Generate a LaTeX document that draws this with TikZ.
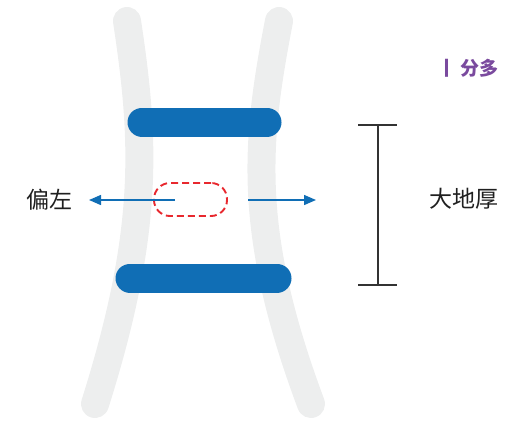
\documentclass[tikz,border=0pt]{standalone}
\usepackage{fontspec}
\newfontfamily\cjk{Noto Sans CJK SC}
\usepackage{tikz}
\usetikzlibrary{arrows.meta,positioning,calc}
\usepackage{xcolor}
\definecolor{legblue}{HTML}{106EB5}
\definecolor{leggray}{HTML}{EDEEEE}
\definecolor{holered}{HTML}{E8282E}
\definecolor{dimgray}{HTML}{333333}
\definecolor{tagpurple}{HTML}{7A4A9E}

\begin{document}
\begin{tikzpicture}[
    x=1pt, y=-1pt,
    leg/.style={line width=28pt, line cap=round, leggray},
    rung/.style={line width=29pt, line cap=round, legblue},
    hole/.style={rectangle, draw=holered, dash pattern=on 7pt off 4pt,
                 line width=1.9pt, rounded corners=16pt,
                 minimum width=73pt, minimum height=33pt},
    lbl/.style={font=\cjk\fontsize{23}{28}\selectfont, text=black!88},
    arr/.style={-{Triangle[length=12pt,width=10pt]}, line width=1.4pt, legblue},
    dim/.style={line width=1.4pt, dimgray}
]
\useasboundingbox (0,0) rectangle (521,426);

% legs
\draw[leg] (127,21) .. controls (145,140) and (150,230) .. (95,404);
\draw[leg] (279,21) .. controls (256,140) and (246,230) .. (311,404);

% rungs
\draw[rung] (142,122) -- (267,122);
\draw[rung] (130,278) -- (277,278);

\node[hole] (gap) at (190.5,199.5) {};
\coordinate (gapin) at (175,200);
\coordinate (gapout) at (248,200);

\node[lbl] (left) at (49,200) {偏左};
\coordinate (lefttip) at (89,200);
\coordinate (righttip) at (316,200);

\draw[arr] (gapin) -- (lefttip);
\draw[arr] (gapout) -- (righttip);

% thickness
\coordinate (dimtop) at (378,125);
\coordinate (dimbot) at (378,285);
\draw[dim] (dimtop) -- (dimbot);
\draw[dim] ($(dimtop)+(-20,0)$) -- ($(dimtop)+(19,0)$);
\draw[dim] ($(dimbot)+(-20,0)$) -- ($(dimbot)+(19,0)$);
\node[lbl] (thick) at (464,199) {大地厚};

\node[font=\cjk\bfseries\fontsize{19}{22}\selectfont, text=tagpurple] (tag) at (468,68) {丨\hspace{4pt}分多};
\end{tikzpicture}
\end{document}
